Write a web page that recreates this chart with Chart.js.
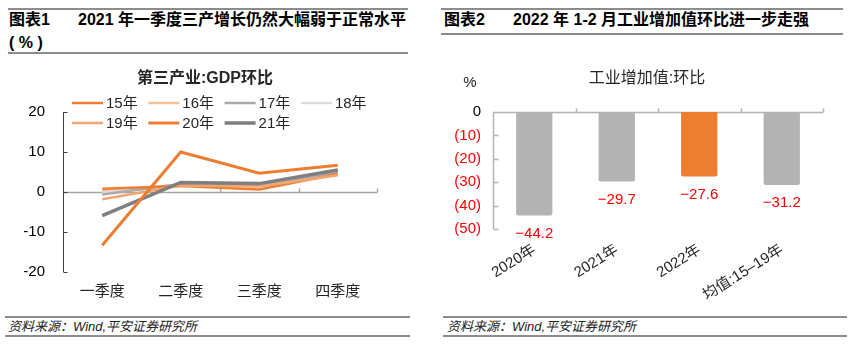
<!DOCTYPE html>
<html>
<head>
<meta charset="utf-8">
<script src="https://cdn.jsdelivr.net/npm/chart.js@4.4.0/dist/chart.umd.min.js"></script>
<style>
  body { margin: 0; width: 858px; height: 348px; background: #fff; position: relative; overflow: hidden;
         font-family: "Liberation Sans", "Noto Sans CJK SC", sans-serif; color: #000; }
  .rule { position: absolute; height: 0; border-top: 2px solid #8c8c8c; }
  .hd { position: absolute; font-size: 16px; font-weight: bold; line-height: 18px; white-space: nowrap; }
  .src { position: absolute; font-size: 13px; font-style: italic; line-height: 16px; white-space: nowrap; color: #222; }
  .box { position: absolute; }
</style>
</head>
<body>
  <!-- left header -->
  <div class="rule" style="left:8px;top:8px;width:400px"></div>
  <div class="hd" style="left:9px;top:11px">图表1</div>
  <div class="hd" style="left:78px;top:11px">2021 年一季度三产增长仍然大幅弱于正常水平</div>
  <div class="hd" style="left:9px;top:34px">( % )</div>
  <div class="rule" style="left:8px;top:52px;width:400px"></div>

  <!-- right header -->
  <div class="rule" style="left:441px;top:8px;width:402px"></div>
  <div class="hd" style="left:444px;top:11px">图表2</div>
  <div class="hd" style="left:513px;top:11px">2022 年 1-2 月工业增加值环比进一步走强</div>
  <div class="rule" style="left:441px;top:33px;width:402px"></div>

  <div class="box" style="left:0;top:56px;width:425px;height:250px"><canvas id="gdpChart"></canvas></div>
  <div class="box" style="left:430px;top:56px;width:428px;height:250px"><canvas id="ivaChart"></canvas></div>

  <!-- footers -->
  <div class="rule" style="left:5px;top:316px;width:405px"></div>
  <div class="src" style="left:8px;top:319px">资料来源：Wind,平安证券研究所</div>
  <div class="rule" style="left:5px;top:335px;width:405px"></div>
  <div class="rule" style="left:443px;top:316px;width:404px"></div>
  <div class="src" style="left:447px;top:319px">资料来源：Wind,平安证券研究所</div>
  <div class="rule" style="left:443px;top:335px;width:404px"></div>

<script>
// left chart data: tertiary industry GDP q/q (%)
const quarters = ["一季度", "二季度", "三季度", "四季度"];
const yearLabels = ["15年", "16年", "17年", "18年", "19年", "20年", "21年"];
const gdp15 = [0.8, 1.5, 0.6, 4.5];
const gdp16 = [0.3, 1.8, 1.6, 4.8];
const gdp17 = [-0.6, 2.0, 1.8, 5.0];
const gdp18 = [-0.2, 1.9, 1.8, 5.2];
const gdp19 = [-1.8, 1.6, 1.4, 4.2];
const gdp20 = [-13.3, 10.0, 4.7, 6.7];
const gdp21 = [-5.9, 2.4, 2.1, 5.5];
const gdpTicks = [-20, -10, 0, 10, 20];

// right chart data: industrial value added m/m (%)
const ivaCats = ["2020年", "2021年", "2022年", "均值:15–19年"];
const ivaValues = [-44.2, -29.7, -27.6, -31.2];
const ivaTicks = [-50, -40, -30, -20, -10, 0];

// styles
const lineColors = ["#ed7d31", "#f7c09a", "#a9a9a9", "#dcdcdc", "#f4a46e", "#ed7d31", "#7f7f7f"];
const lineWidths = [2.5, 2.5, 2.5, 2.5, 2.5, 3, 3.5];
const lineOrder = [3, 6, 4, 5, 2, 0, 1];
const barColors = ["#b3b3b3", "#b3b3b3", "#ed7d31", "#b3b3b3"];
const FONT = "'Liberation Sans', 'Noto Sans CJK SC', sans-serif";

Chart.defaults.font.family = FONT;

const gdpSeries = [gdp15, gdp16, gdp17, gdp18, gdp19, gdp20, gdp21];

const gdpDeco = {
  id: "gdpDeco",
  beforeDatasetsDraw(chart) {
    const { ctx, chartArea: a, scales: { y } } = chart;
    const y0 = Math.round(y.getPixelForValue(0)) + 0.5;
    const band = (a.right - a.left) / quarters.length;
    ctx.save();
    ctx.strokeStyle = "#a6a6a6";
    ctx.lineWidth = 1.5;
    ctx.beginPath();
    ctx.moveTo(a.left, y0);
    ctx.lineTo(a.right, y0);
    for (let i = 1; i <= quarters.length; i++) {
      const px = Math.round(a.left + band * i) + 0.5;
      ctx.moveTo(px, y0);
      ctx.lineTo(px, y0 - 4);
    }
    ctx.stroke();
    // y axis with inward ticks
    const ax = Math.round(a.left) + 0.5;
    ctx.strokeStyle = "#404040";
    ctx.lineWidth = 1;
    ctx.beginPath();
    ctx.moveTo(ax, a.top);
    ctx.lineTo(ax, a.bottom);
    gdpTicks.forEach(v => {
      const py = Math.round(y.getPixelForValue(v)) + 0.5;
      ctx.moveTo(ax, py);
      ctx.lineTo(ax + 4, py);
    });
    ctx.stroke();
    ctx.restore();
  },
  afterDraw(chart) {
    const { ctx, chartArea: a } = chart;
    ctx.save();
    ctx.fillStyle = "#262626";
    ctx.textAlign = "center";
    ctx.textBaseline = "middle";
    ctx.font = "bold 16px " + FONT;
    ctx.fillText("第三产业:GDP环比", 205, a.top - 33);
    // legend: 4 columns grid
    ctx.font = "15px " + FONT;
    ctx.textAlign = "left";
    chart.data.datasets.forEach((ds, i) => {
      const lx = a.left + 9 + (i % 4) * 76.3;
      const ly = a.top - 9 + Math.floor(i / 4) * 20;
      ctx.strokeStyle = ds.borderColor;
      ctx.lineWidth = ds.borderWidth;
      ctx.beginPath();
      ctx.moveTo(lx, ly);
      ctx.lineTo(lx + 31, ly);
      ctx.stroke();
      ctx.fillStyle = "#262626";
      ctx.fillText(ds.label, lx + 34, ly + 1);
    });
    ctx.restore();
  }
};

new Chart(document.getElementById("gdpChart"), {
  type: "line",
  data: {
    labels: quarters,
    datasets: gdpSeries.map((d, i) => ({
      label: yearLabels[i],
      data: d,
      borderColor: lineColors[i],
      borderWidth: lineWidths[i],
      order: lineOrder[i],
      pointRadius: 0,
      tension: 0,
      fill: false
    }))
  },
  options: {
    responsive: true,
    maintainAspectRatio: false,
    animation: false,
    layout: { padding: { top: 56, right: 48, left: 0, bottom: 0 } },
    plugins: { legend: { display: false }, tooltip: { enabled: false } },
    scales: {
      x: {
        offset: true,
        grid: { display: false, drawTicks: false },
        border: { display: false },
        ticks: { color: "#262626", font: { size: 15 }, padding: 11 },
        afterFit(s) { s.height = 34; }
      },
      y: {
        min: -20, max: 20,
        afterBuildTicks(s) { s.ticks = gdpTicks.map(v => ({ value: v })); },
        grid: { display: false, drawTicks: false },
        border: { display: false },
        ticks: { color: "#000", font: { size: 15 }, padding: 18 },
        afterFit(s) { s.width = 63; }
      }
    }
  },
  plugins: [gdpDeco]
});

const ivaDeco = {
  id: "ivaDeco",
  beforeDatasetsDraw(chart) {
    const { ctx, chartArea: a, scales: { y } } = chart;
    const y0 = Math.round(y.getPixelForValue(0)) + 0.5;
    const band = (a.right - a.left) / ivaCats.length;
    const ax = Math.round(a.left) + 0.5;
    ctx.save();
    ctx.strokeStyle = "#b3b3b3";
    ctx.lineWidth = 1.5;
    ctx.beginPath();
    ctx.moveTo(ax, y0);
    ctx.lineTo(a.right, y0);
    for (let i = 1; i <= ivaCats.length; i++) {
      const px = Math.round(a.left + band * i) + 0.5;
      ctx.moveTo(px, y0);
      ctx.lineTo(px, y0 - 4);
    }
    ctx.moveTo(ax, a.top);
    ctx.lineTo(ax, a.bottom);
    ivaTicks.forEach(v => {
      const py = Math.round(y.getPixelForValue(v)) + 0.5;
      ctx.moveTo(ax, py);
      ctx.lineTo(ax + 5, py);
    });
    ctx.stroke();
    ctx.restore();
  },
  afterDraw(chart) {
    const { ctx, chartArea: a } = chart;
    const meta = chart.getDatasetMeta(0);
    ctx.save();
    ctx.textAlign = "center";
    ctx.textBaseline = "middle";
    ctx.fillStyle = "#262626";
    ctx.font = "16px " + FONT;
    ctx.fillText("工业增加值:环比", 217, a.top - 33);
    ctx.font = "15px " + FONT;
    ctx.fillText("%", 40, a.top - 29);
    ctx.fillStyle = "#ff0000";
    meta.data.forEach((bar, i) => {
      const v = ivaValues[i];
      const txt = (v < 0 ? "\u2212" : "") + Math.abs(v).toFixed(1);
      ctx.fillText(txt, bar.x, bar.y + 18);
    });
    ctx.restore();
  }
};

new Chart(document.getElementById("ivaChart"), {
  type: "bar",
  data: {
    labels: ivaCats,
    datasets: [{
      label: "工业增加值:环比",
      data: ivaValues,
      backgroundColor: barColors,
      borderRadius: 2,
      borderSkipped: "start",
      barPercentage: 0.44,
      categoryPercentage: 1
    }]
  },
  options: {
    responsive: true,
    maintainAspectRatio: false,
    animation: false,
    layout: { padding: { top: 56, right: 35, left: 0, bottom: 0 } },
    plugins: { legend: { display: false }, tooltip: { enabled: false } },
    scales: {
      x: {
        grid: { display: false, drawTicks: false },
        border: { display: false },
        ticks: { color: "#262626", font: { size: 15 }, minRotation: 32, maxRotation: 32, autoSkip: false, padding: 12 },
        afterFit(s) { s.height = 77; }
      },
      y: {
        min: -50, max: 0,
        afterBuildTicks(s) { s.ticks = ivaTicks.map(v => ({ value: v })); },
        grid: { display: false, drawTicks: false },
        border: { display: false },
        ticks: {
          font: { size: 15 },
          padding: 12,
          color: c => (c.tick && c.tick.value === 0 ? "#000" : "#ff0000"),
          callback: v => (v === 0 ? "0" : "(" + Math.abs(v) + ")")
        },
        afterFit(s) { s.width = 63; }
      }
    }
  },
  plugins: [ivaDeco]
});
</script>
</body>
</html>
